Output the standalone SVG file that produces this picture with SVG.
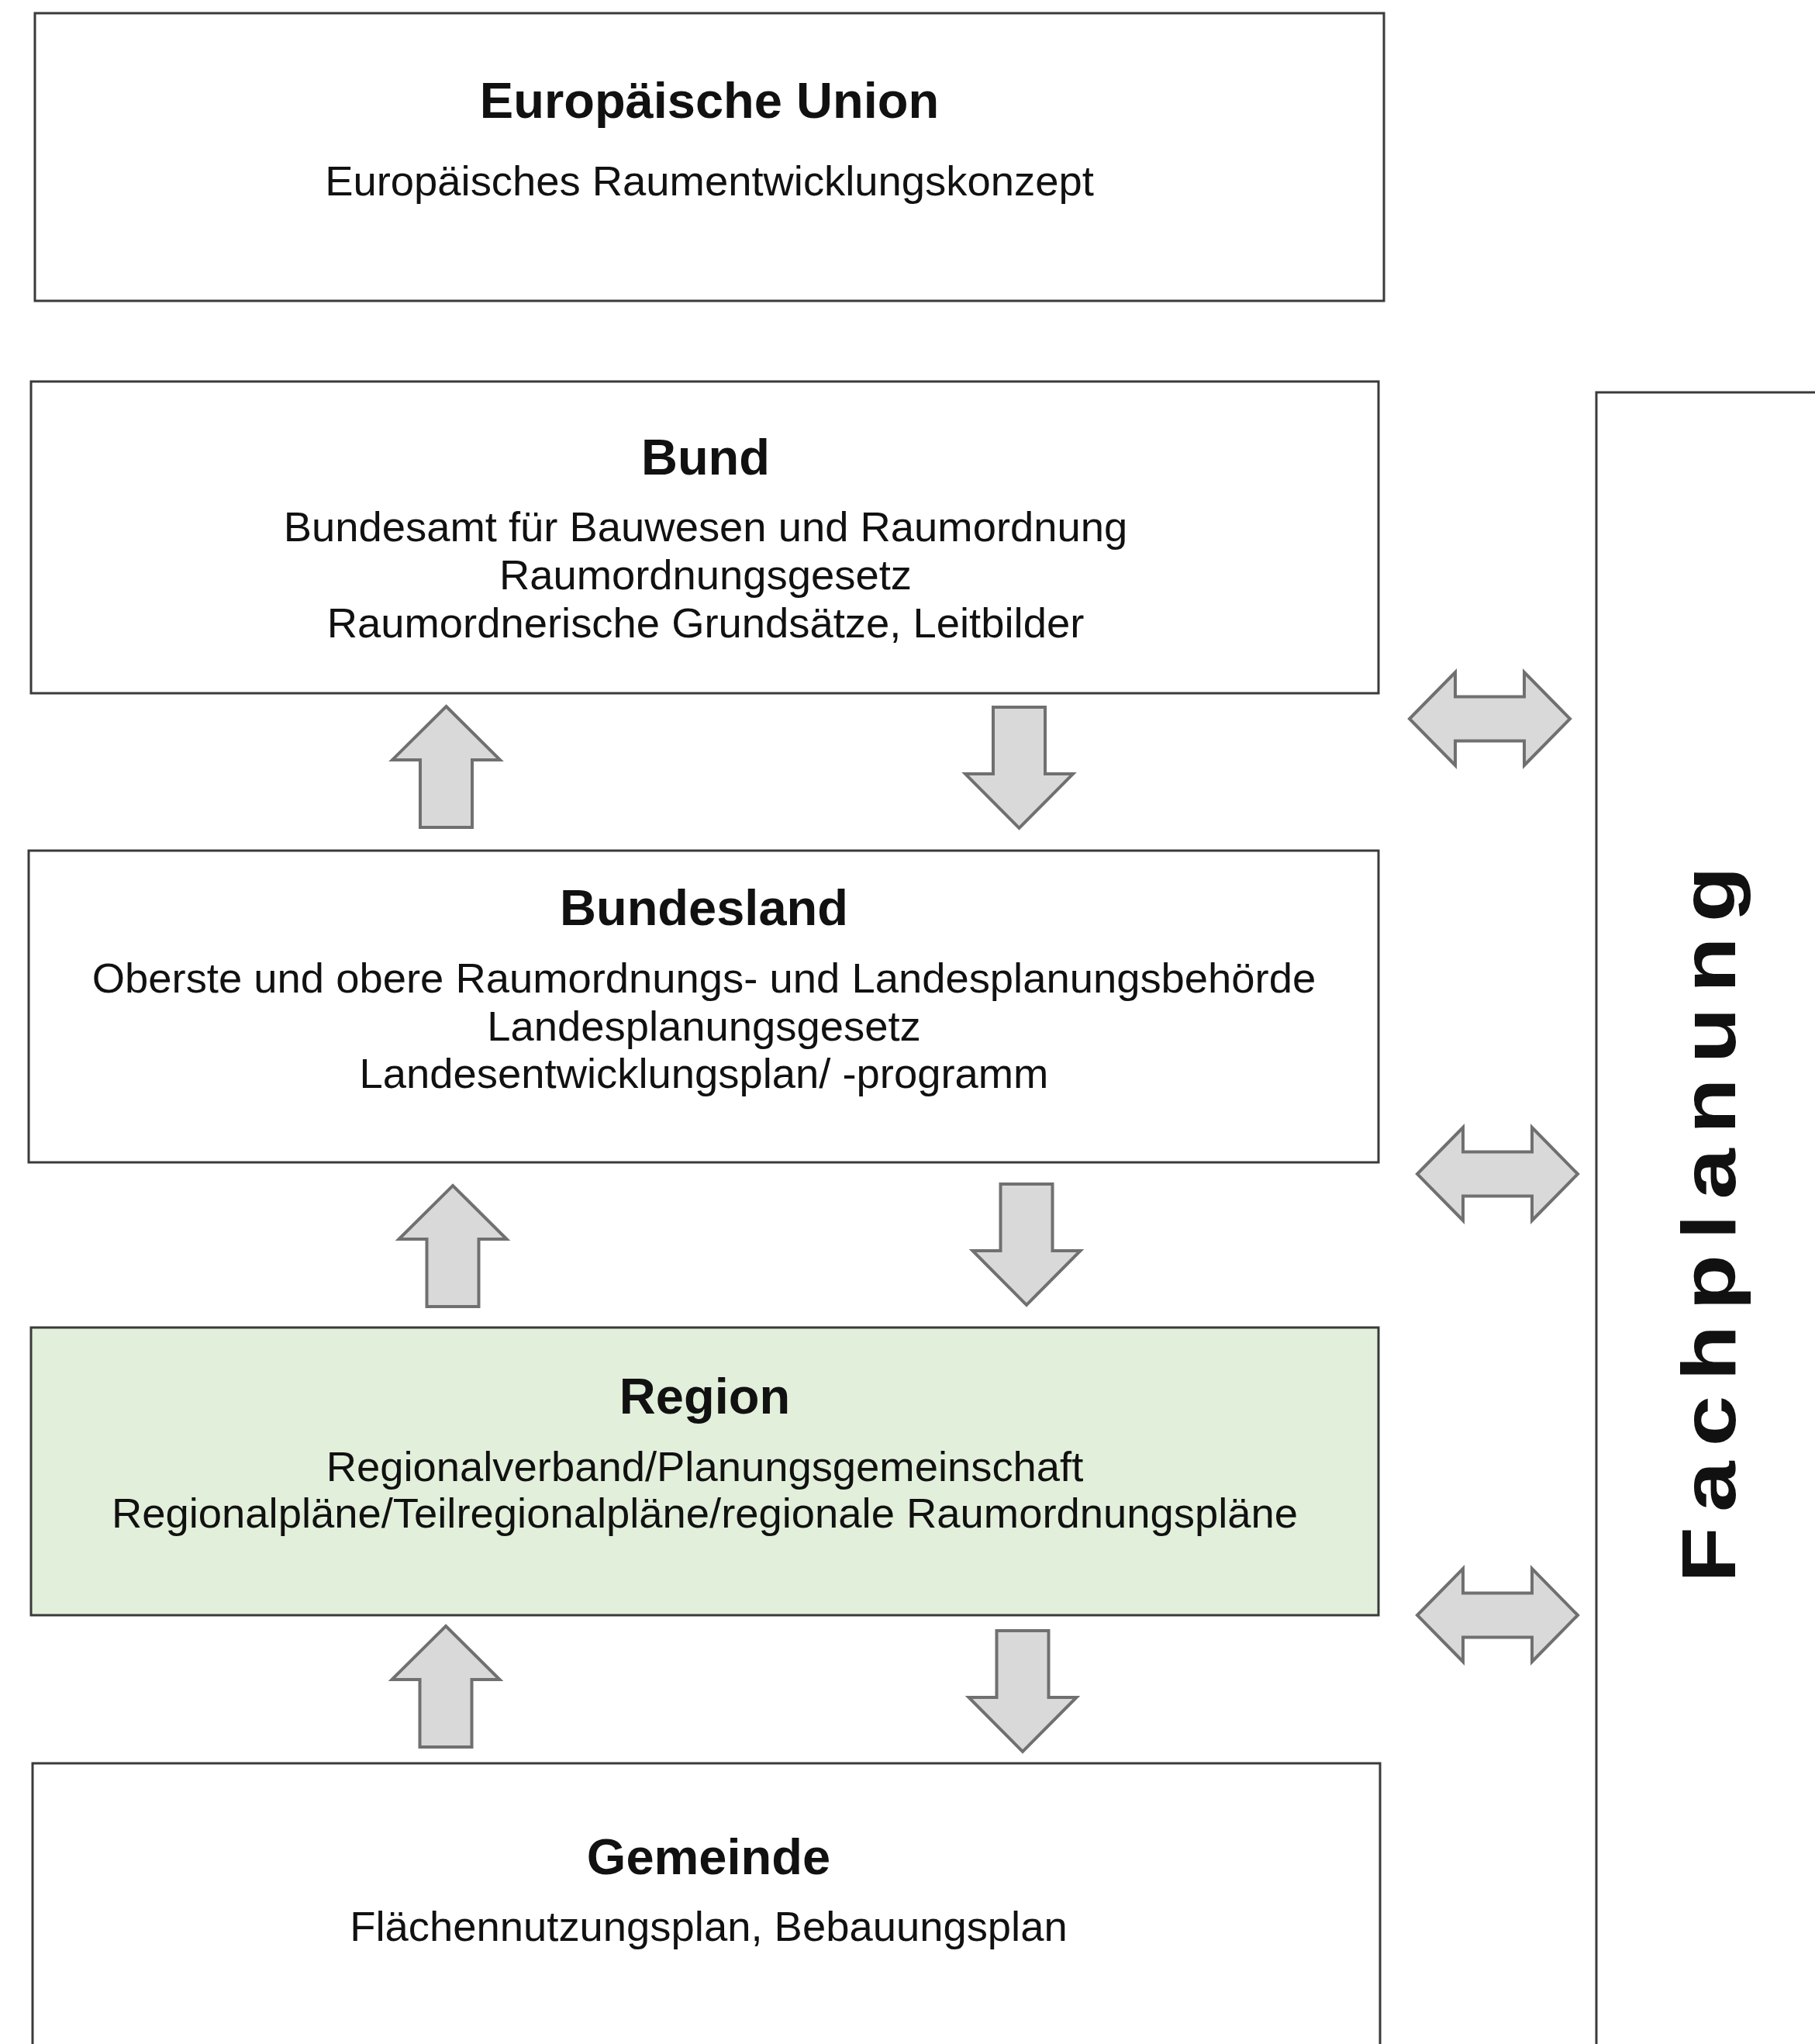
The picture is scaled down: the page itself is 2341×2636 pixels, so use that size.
<svg xmlns="http://www.w3.org/2000/svg" xmlns:xlink="http://www.w3.org/1999/xlink" width="2341" height="2636" viewBox="0 0 2341 2636">
  <style>
    .box { fill: #ffffff; stroke: #3a3a3a; stroke-width: 3; }
    .green { fill: #e2efda; }
    .title { font-family: "Liberation Sans", Arial, sans-serif; font-weight: bold; font-size: 65px; fill: #111; text-anchor: middle; }
    .body { font-family: "Liberation Sans", Arial, sans-serif; font-size: 54.4px; fill: #111; text-anchor: middle; }
    .vert { font-family: "Liberation Sans", Arial, sans-serif; font-weight: bold; font-size: 98px; letter-spacing: 16px; fill: #111; }
    .arrow { fill: #d9d9d9; stroke: #707070; stroke-width: 4; stroke-linejoin: miter; }
  </style>
  <defs>
    <path id="up" d="M0,0 L69.5,69 L33.5,69 L33.5,156 L-33.5,156 L-33.5,69 L-69.5,69 Z"/>
    <path id="down" d="M-33.5,0 L33.5,0 L33.5,86 L69.5,86 L0,156 L-69.5,86 L-33.5,86 Z"/>
    <path id="both" d="M0,0 L59,-60 L59,-28.5 L148,-28.5 L148,-60 L207,0 L148,60 L148,28.5 L59,28.5 L59,60 Z"/>
  </defs>
  <rect width="2341" height="2636" fill="#ffffff"/>

  <g id="eu">
    <rect class="box" x="45" y="17" width="1740" height="371"/>
    <text class="title" x="915" y="152">Europäische Union</text>
    <text class="body" x="915" y="252">Europäisches Raumentwicklungskonzept</text>
  </g>

  <g id="bund">
    <rect class="box" x="40" y="492" width="1738" height="402"/>
    <text class="title" x="910" y="612">Bund</text>
    <text class="body" x="910" y="698">Bundesamt für Bauwesen und Raumordnung</text>
    <text class="body" x="910" y="760">Raumordnungsgesetz</text>
    <text class="body" x="910" y="822">Raumordnerische Grundsätze, Leitbilder</text>
  </g>

  <g id="bundesland">
    <rect class="box" x="37" y="1097" width="1741" height="402"/>
    <text class="title" x="908" y="1193">Bundesland</text>
    <text class="body" x="908" y="1280">Oberste und obere Raumordnungs- und Landesplanungsbehörde</text>
    <text class="body" x="908" y="1342">Landesplanungsgesetz</text>
    <text class="body" x="908" y="1403">Landesentwicklungsplan/ -programm</text>
  </g>

  <g id="region">
    <rect class="box green" x="40" y="1712" width="1738" height="371"/>
    <text class="title" x="909" y="1823">Region</text>
    <text class="body" x="909" y="1910">Regionalverband/Planungsgemeinschaft</text>
    <text class="body" x="909" y="1970">Regionalpläne/Teilregionalpläne/regionale Raumordnungspläne</text>
  </g>

  <g id="gemeinde">
    <rect class="box" x="42" y="2274" width="1738" height="420"/>
    <text class="title" x="914" y="2417">Gemeinde</text>
    <text class="body" x="914" y="2503">Flächennutzungsplan, Bebauungsplan</text>
  </g>

  <g id="fachplanung">
    <rect class="box" x="2059" y="506" width="400" height="2200"/>
    <text class="vert" transform="translate(2238,2041) rotate(-90) scale(1.2,1)" x="0" y="0">Fachplanung</text>
  </g>

  <g id="connectors">
    <use href="#up" xlink:href="#up" class="arrow" x="575.5" y="911"/>
    <use href="#down" xlink:href="#down" class="arrow" x="1314.5" y="912"/>
    <use href="#up" xlink:href="#up" class="arrow" x="584" y="1529"/>
    <use href="#down" xlink:href="#down" class="arrow" x="1324" y="1527"/>
    <use href="#up" xlink:href="#up" class="arrow" x="575" y="2097"/>
    <use href="#down" xlink:href="#down" class="arrow" x="1319" y="2103"/>
    <use href="#both" xlink:href="#both" class="arrow" x="1818" y="927"/>
    <use href="#both" xlink:href="#both" class="arrow" x="1828" y="1514"/>
    <use href="#both" xlink:href="#both" class="arrow" x="1828" y="2083"/>
  </g>
</svg>
